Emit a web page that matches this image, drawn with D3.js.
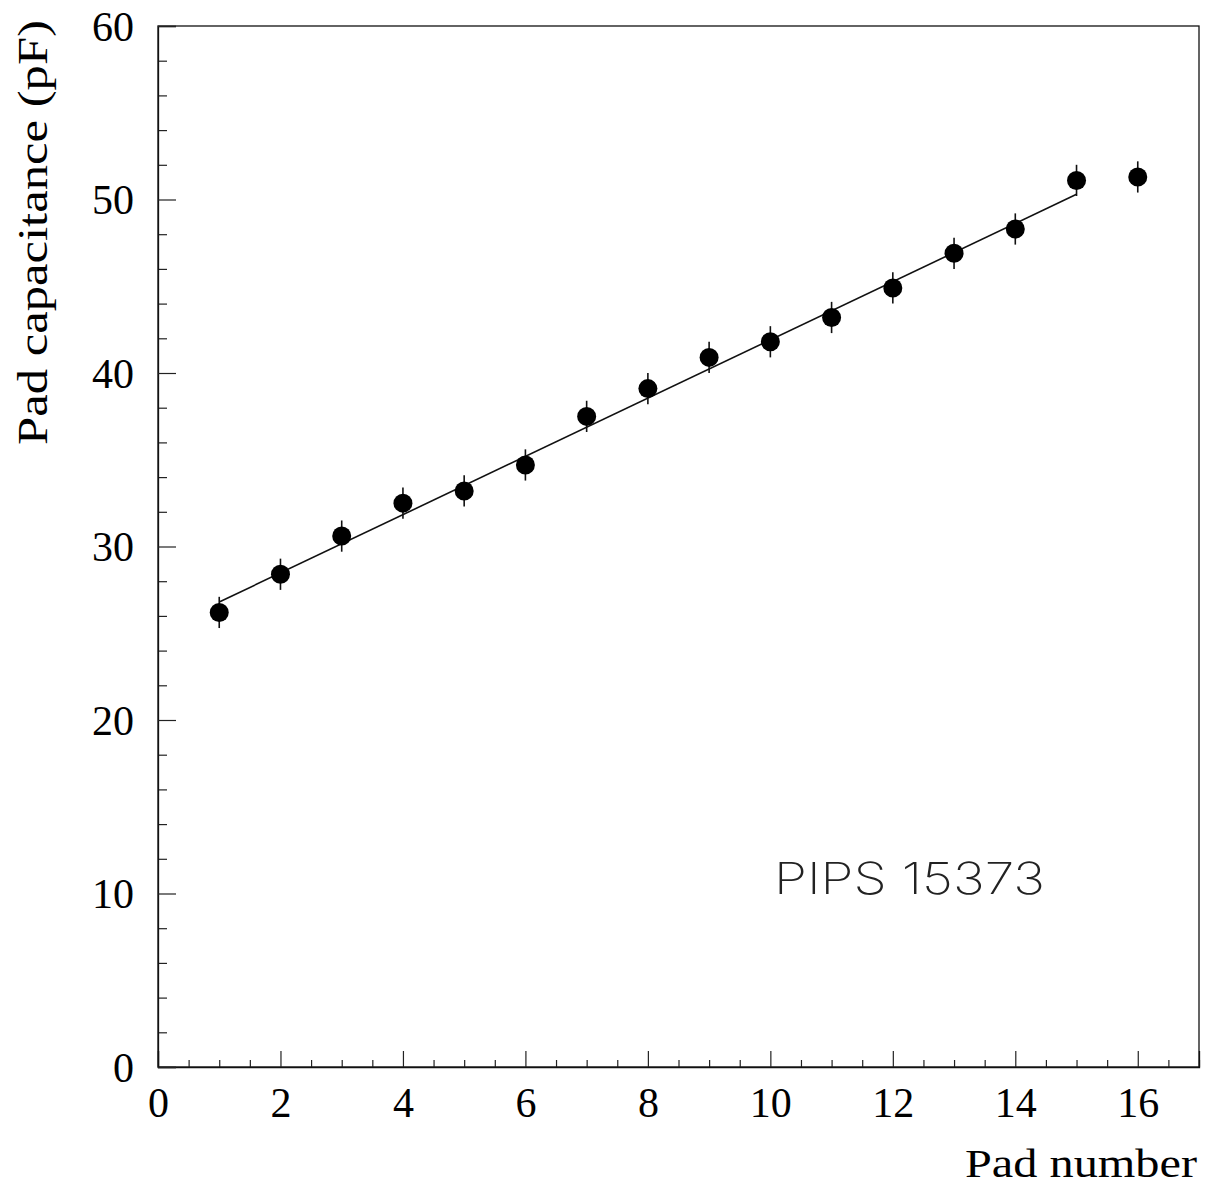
<!DOCTYPE html>
<html><head><meta charset="utf-8">
<script src="https://cdn.jsdelivr.net/npm/d3@7"></script>
<style>body{margin:0;background:#fff}svg{display:block}</style>
</head><body>
<script>
const padNumber = [1,2,3,4,5,6,7,8,9,10,11,12,13,14,15,16];
const capacitance = [26.2,28.4,30.6,32.5,33.2,34.7,37.5,39.1,40.9,41.8,43.2,44.9,46.9,48.3,51.1,51.3];
const capError = [0.9,0.9,0.9,0.9,0.9,0.9,0.9,0.9,0.9,0.9,0.9,0.9,0.9,0.9,0.9,0.9];
const fitX = [1,15];
const fitY = [26.8,50.3];
const xTicks = [0,2,4,6,8,10,12,14,16];
const yTicks = [0,10,20,30,40,50,60];
const xLabel = "Pad number";
const yLabel = "Pad capacitance (pF)";
const annotation = "PIPS 15373";

const W = 1213, H = 1193;
const svg = d3.select("body").append("svg").attr("width", W).attr("height", H);
const x = d3.scaleLinear().domain([0,17]).range([158,1199]);
const y = d3.scaleLinear().domain([0,60]).range([1067,26]);
const serif = "Liberation Serif";

// frame
svg.append("rect").attr("x", x(0)).attr("y", y(60)).attr("width", x(17)-x(0)).attr("height", y(0)-y(60))
  .attr("fill","none").attr("stroke","#111").attr("stroke-width",1.3);

// x minor ticks
const xMinor = d3.range(0, 17.01, 0.5).filter(v => !xTicks.includes(v));
const xAxisMinor = d3.axisBottom(x).tickValues(xMinor).tickSize(-7).tickFormat("");
svg.append("g").attr("transform",`translate(0,${y(0)})`).call(xAxisMinor)
  .call(g => { g.select(".domain").remove(); g.selectAll("line").attr("stroke","#222").attr("stroke-width",1.2); });
const xAxis = d3.axisBottom(x).tickValues(xTicks).tickSize(-16).tickPadding(20).tickFormat(d3.format("d"));
svg.append("g").attr("transform",`translate(0,${y(0)})`).call(xAxis)
  .call(g => {
    g.select(".domain").attr("stroke","#111").attr("stroke-width",1.3);
    g.selectAll("line").attr("stroke","#222").attr("stroke-width",1.2);
    g.selectAll("text").style("font-family", serif).style("font-size", "42px").attr("fill","#000").attr("dy","0.71em");
  });

// y ticks
const yMinor = d3.range(0, 60.01, 2).filter(v => !yTicks.includes(v));
const yAxisMinor = d3.axisLeft(y).tickValues(yMinor).tickSize(-9).tickFormat("");
svg.append("g").attr("transform",`translate(${x(0)},0)`).call(yAxisMinor)
  .call(g => { g.select(".domain").remove(); g.selectAll("line").attr("stroke","#222").attr("stroke-width",1.2); });
const yAxis = d3.axisLeft(y).tickValues(yTicks).tickSize(-18).tickPadding(24).tickFormat(d3.format("d"));
svg.append("g").attr("transform",`translate(${x(0)},0)`).call(yAxis)
  .call(g => {
    g.select(".domain").attr("stroke","#111").attr("stroke-width",1.3);
    g.selectAll("line").attr("stroke","#222").attr("stroke-width",1.2);
    g.selectAll("text").style("font-family", serif).style("font-size", "42px").attr("fill","#000").attr("dy","0.34em");
  });

// fit line
svg.append("line").attr("x1", x(fitX[0])).attr("y1", y(fitY[0])).attr("x2", x(fitX[1])).attr("y2", y(fitY[1]))
  .attr("stroke","#111").attr("stroke-width",1.6);

// error bars
svg.append("g").selectAll("line").data(padNumber).join("line")
  .attr("x1", (d)=>x(d)).attr("x2",(d)=>x(d))
  .attr("y1", (d,i)=>y(capacitance[i]+capError[i])).attr("y2",(d,i)=>y(capacitance[i]-capError[i]))
  .attr("stroke","#111").attr("stroke-width",1.6);

// markers
svg.append("g").selectAll("circle").data(padNumber).join("circle")
  .attr("cx",(d)=>x(d)).attr("cy",(d,i)=>y(capacitance[i])).attr("r",9.5).attr("fill","#000");

// annotation
svg.append("text").attr("x", 774).attr("y", 894).text(annotation)
  .style("font-family","Inter").style("font-weight",200).style("font-size","44px")
  .attr("fill","#222").attr("textLength",271).attr("lengthAdjust","spacingAndGlyphs");

// axis labels
svg.append("text").attr("x", 965).attr("y", 1177).text(xLabel)
  .style("font-family", serif).style("font-size", "40px").attr("fill","#000")
  .attr("textLength",232).attr("lengthAdjust","spacingAndGlyphs");
svg.append("text").attr("transform","translate(47,445) rotate(-90)").text(yLabel)
  .style("font-family", serif).style("font-size", "42px").attr("fill","#000")
  .attr("textLength",425).attr("lengthAdjust","spacingAndGlyphs");
</script>
</body></html>
